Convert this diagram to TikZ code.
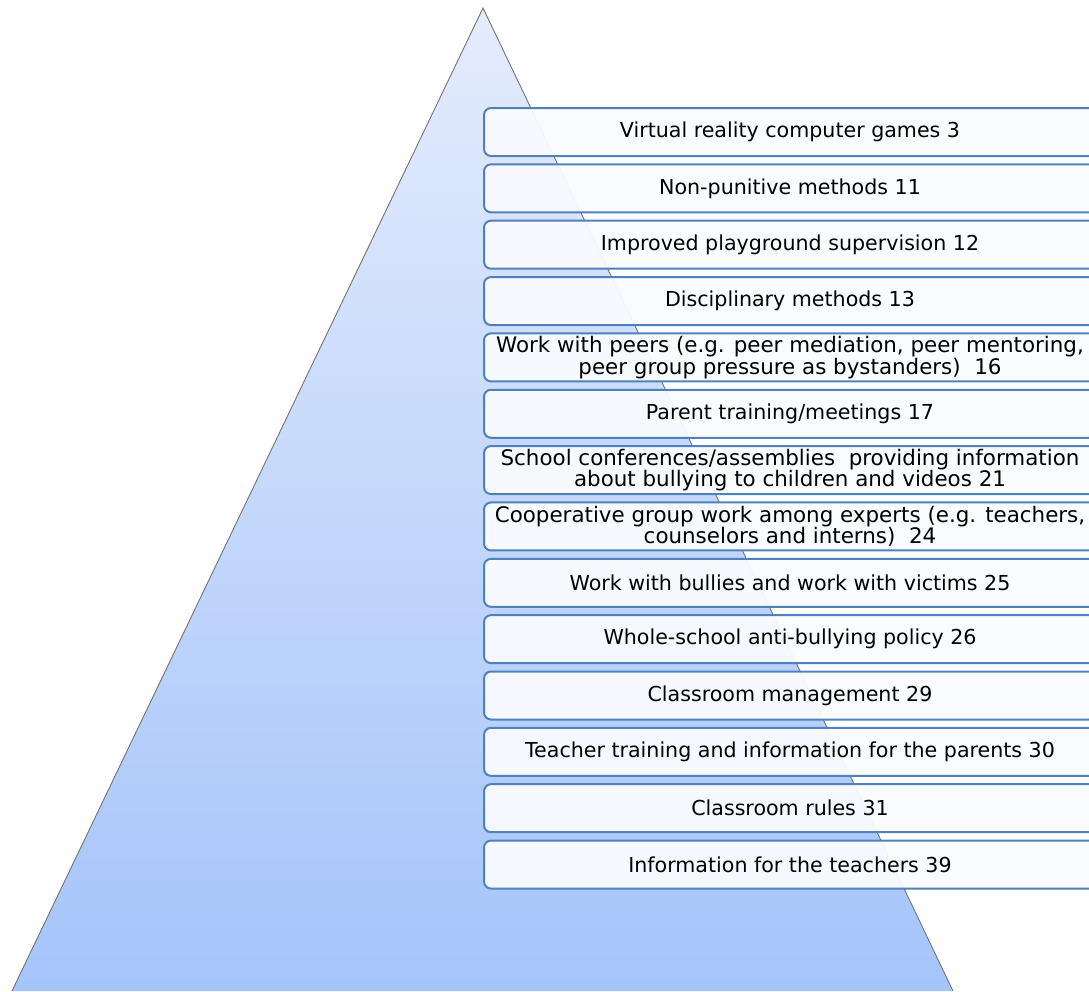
\documentclass[tikz,border=0pt]{standalone}
\usepackage{fontspec}
\setmainfont{DejaVu Sans}
\usetikzlibrary{positioning}
\definecolor{pyrtop}{RGB}{228,236,252}
\definecolor{pyrbot}{RGB}{165,196,250}
\definecolor{boxblue}{RGB}{79,129,189}
\definecolor{boxfill}{RGB}{249,251,255}
\begin{document}
\begin{tikzpicture}[x=1pt, y=-1pt,
      level/.style={draw=boxblue, line width=2pt, rounded corners=7pt,
                    fill=boxfill, fill opacity=0.95, text opacity=1,
                    minimum width=612pt, minimum height=48pt, inner sep=0pt,
                    align=center, font=\fontsize{20.6}{21.5}\selectfont},
      twoline/.style={font=\fontsize{21.4}{21.5}\selectfont}]
    \clip (0,0) rectangle (1089,991);
    % pyramid
    \coordinate (apex) at (483,8);
    \coordinate (baseL) at (12,991);
    \coordinate (baseR) at (953,991);
    \shade[top color=pyrtop, bottom color=pyrbot] (apex) -- (baseR) -- (baseL) -- cycle;
    \draw[gray!90!black, line width=0.9pt] (baseL) -- (apex) -- (baseR);
    % levels, top to bottom
    \foreach \k/\txt in {
        1/{Virtual reality computer games 3},
        2/{Non-punitive methods 11},
        3/{Improved playground supervision 12},
        4/{Disciplinary methods 13},
        6/{Parent training/meetings 17},
        9/{Work with bullies and work with victims 25},
        10/{Whole-school anti-bullying policy 26},
        11/{Classroom management 29},
        12/{Teacher training and information for the parents 30},
        13/{Classroom rules 31},
        14/{Information for the teachers 39}}{
      \node[level] (box\k) at (790,{132+(\k-1)*56.35}) {\txt};
    }
    \foreach \k/\txt in {
        5/{Work with peers (e.g. peer mediation, peer mentoring,\\ peer group pressure as bystanders)\ \ 16},
        7/{School conferences/assemblies\ \ providing information\\ about bullying to children and videos 21},
        8/{Cooperative group work among experts (e.g. teachers,\\ counselors and interns)\ \ 24}}{
      \node[level, twoline] (box\k) at (790,{132+(\k-1)*56.35}) {\txt};
    }
  \end{tikzpicture}
\end{document}
